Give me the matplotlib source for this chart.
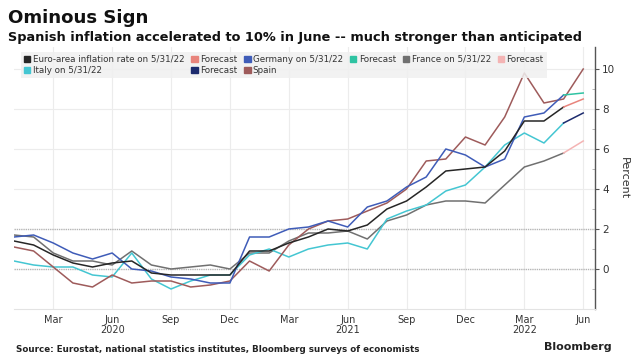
import matplotlib
matplotlib.use("Agg")
import matplotlib.pyplot as plt
from matplotlib.patches import Patch
import numpy as np

plt.rcParams['font.family'] = ['DejaVu Sans']

# Monthly, Jan 2020 .. Jun 2022
months = [f"{y}-{m:02d}" for y in (2020, 2021, 2022) for m in range(1, 13)][:30]

euro = [1.4, 1.2, 0.7, 0.3, 0.1, 0.3, 0.4, -0.2, -0.3, -0.3, -0.3, -0.3,
        0.9, 0.9, 1.3, 1.6, 2.0, 1.9, 2.2, 3.0, 3.4, 4.1, 4.9, 5.0,
        5.1, 5.9, 7.4, 7.4, 8.1]
germany = [1.6, 1.7, 1.3, 0.8, 0.5, 0.8, 0.0, -0.1, -0.4, -0.5, -0.7, -0.7,
           1.6, 1.6, 2.0, 2.1, 2.4, 2.1, 3.1, 3.4, 4.1, 4.6, 6.0, 5.7,
           5.1, 5.5, 7.6, 7.8, 8.7]
france = [1.7, 1.6, 0.8, 0.4, 0.4, 0.2, 0.9, 0.2, 0.0, 0.1, 0.2, 0.0,
          0.8, 0.8, 1.4, 1.8, 1.8, 1.9, 1.5, 2.4, 2.7, 3.2, 3.4, 3.4,
          3.3, 4.2, 5.1, 5.4, 5.8]
italy = [0.4, 0.2, 0.1, 0.1, -0.3, -0.4, 0.8, -0.5, -1.0, -0.6, -0.3, -0.3,
         0.7, 1.0, 0.6, 1.0, 1.2, 1.3, 1.0, 2.5, 2.9, 3.2, 3.9, 4.2,
         5.1, 6.2, 6.8, 6.3, 7.3]
spain = [1.1, 0.9, 0.1, -0.7, -0.9, -0.3, -0.7, -0.6, -0.6, -0.9, -0.8, -0.6,
         0.4, -0.1, 1.2, 2.0, 2.4, 2.5, 2.9, 3.3, 4.0, 5.4, 5.5, 6.6,
         6.2, 7.6, 9.8, 8.3, 8.5, 10.0]

# Forecasts: May 2022 (last actual) -> Jun 2022
fc_months = ["2022-05", "2022-06"]
euro_fc = [8.1, 8.5]
germany_fc = [8.7, 8.8]
france_fc = [5.8, 6.4]
italy_fc = [7.3, 7.8]

tick_months = ["2020-03", "2020-06", "2020-09", "2020-12", "2021-03", "2021-06",
               "2021-09", "2021-12", "2022-03", "2022-06"]
tick_labels = ["Mar", "Jun\n2020", "Sep", "Dec", "Mar", "Jun\n2021", "Sep", "Dec",
               "Mar\n2022", "Jun"]
y_ticks = [0, 2, 4, 6, 8, 10]

idx = {m: i for i, m in enumerate(months)}
def xs(ms):
    return [idx[m] for m in ms]

c_euro = '#262626'
c_euro_fc = '#e8847c'
c_ger = '#3f5cb8'
c_ger_fc = '#2ec3a2'
c_fra = '#707070'
c_fra_fc = '#f4b4b4'
c_ita = '#44c6d2'
c_ita_fc = '#1d2b6e'
c_spa = '#9e5b5b'

fig = plt.figure(figsize=(6.4, 3.64), dpi=100)
ax = fig.add_axes([14/640, 1 - 309/364, (595 - 14)/640, (309 - 47)/364])

lw = 1.1
ax.plot(xs(months[:len(france)]), france, color=c_fra, lw=lw)
ax.plot(xs(fc_months), france_fc, color=c_fra_fc, lw=lw)
ax.plot(xs(months[:len(italy)]), italy, color=c_ita, lw=lw)
ax.plot(xs(fc_months), italy_fc, color=c_ita_fc, lw=lw)
ax.plot(xs(months[:len(spain)]), spain, color=c_spa, lw=lw)
ax.plot(xs(months[:len(germany)]), germany, color=c_ger, lw=lw)
ax.plot(xs(fc_months), germany_fc, color=c_ger_fc, lw=lw)
ax.plot(xs(months[:len(euro)]), euro, color=c_euro, lw=lw)
ax.plot(xs(fc_months), euro_fc, color=c_euro_fc, lw=lw)

ax.set_xlim(0, 29.6)
ax.set_ylim(-2, 11.1)

# gridlines
for t in xs(tick_months):
    ax.axvline(t, color='#ececec', lw=0.8, zorder=0)
for y in y_ticks:
    if y in (0, 2):
        ax.axhline(y, color='#b5b5b5', lw=1.0, ls=(0, (1, 0.6)), zorder=0.5)
    else:
        ax.axhline(y, color='#ececec', lw=0.8, zorder=0)

ax.set_xticks(xs(tick_months))
ax.set_xticklabels(tick_labels, fontsize=7, color='#333333', linespacing=1.0)
ax.tick_params(axis='x', length=0, pad=4)

ax.yaxis.tick_right()
ax.yaxis.set_label_position('right')
ax.set_yticks(y_ticks)
ax.set_yticklabels([str(v) for v in y_ticks], fontsize=7.5, color='#333333')
ax.set_yticks([-2, -1, 1, 3, 5, 7, 9], minor=True)
ax.tick_params(axis='y', which='major', length=3, width=0.8, color='#555555', pad=2)
ax.tick_params(axis='y', which='minor', length=2, width=0.6, color='#aaaaaa', direction='in')
ax.set_ylabel('Percent', rotation=270, fontsize=8, color='#333333', labelpad=10)

for s in ('top', 'left'):
    ax.spines[s].set_visible(False)
ax.spines['bottom'].set_color('#e3e3e3')
ax.spines['bottom'].set_linewidth(0.8)
ax.spines['right'].set_color('#555555')
ax.spines['right'].set_linewidth(1.0)

# legend (order arranged for column-wise fill)
handles = [
    Patch(color=c_euro, label='Euro-area inflation rate on 5/31/22'),
    Patch(color=c_ita, label='Italy on 5/31/22'),
    Patch(color=c_euro_fc, label='Forecast'),
    Patch(color=c_ita_fc, label='Forecast'),
    Patch(color=c_ger, label='Germany on 5/31/22'),
    Patch(color=c_spa, label='Spain'),
    Patch(color=c_ger_fc, label='Forecast'),
    Patch(color=c_fra, label='France on 5/31/22'),
    Patch(color=c_fra_fc, label='Forecast'),
]
leg = ax.legend(handles=handles, ncol=6, loc='upper left',
                bbox_to_anchor=(0.004, 0.998), fontsize=6.3,
                handlelength=0.75, handleheight=0.75, handletextpad=0.25,
                columnspacing=0.8, labelspacing=0.25, borderpad=0.35,
                frameon=True, fancybox=False, framealpha=0.85,
                labelcolor='#333333')
leg.get_frame().set_facecolor('#f0f0f0')
leg.get_frame().set_edgecolor('none')

fig.text(8/640, 1 - 18/364, 'Ominous Sign', fontsize=13.1, fontweight='bold',
         color='#111111', va='center', ha='left')
fig.text(8/640, 1 - 37/364,
         'Spanish inflation accelerated to 10% in June -- much stronger than anticipated',
         fontsize=9.3, fontweight='bold', color='#111111', va='center', ha='left')
fig.text(16/640, 1 - 349/364,
         'Source: Eurostat, national statistics institutes, Bloomberg surveys of economists',
         fontsize=6.3, fontweight='bold', color='#222222', va='center', ha='left')
fig.text(612/640, 1 - 347/364, 'Bloomberg', fontsize=8, fontweight='bold',
         color='#222222', va='center', ha='right')

fig.savefig('out.png', dpi=100, facecolor='white')
